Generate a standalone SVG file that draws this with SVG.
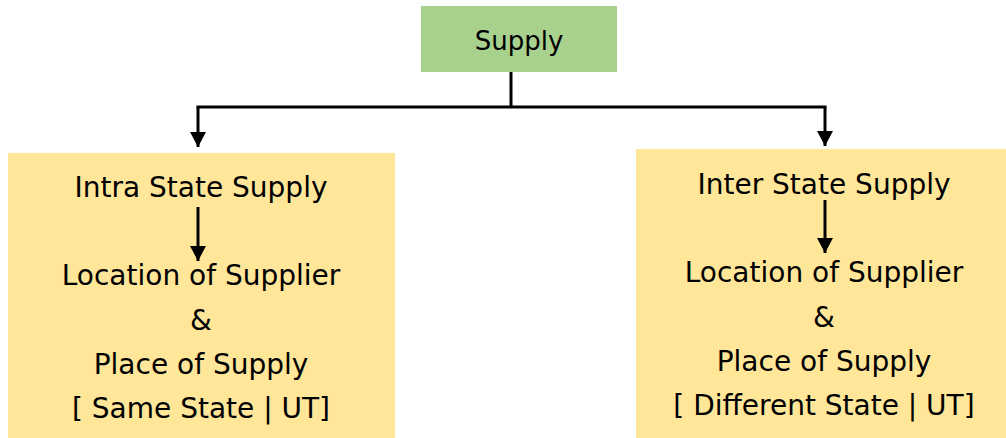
<svg xmlns="http://www.w3.org/2000/svg" width="1006" height="438" viewBox="0 0 1006 438">
<style>
.t{font-family:"DejaVu Sans","Liberation Sans",sans-serif;font-size:28px;fill:#000;text-anchor:middle}
.c{fill:none;stroke:#000;stroke-width:3}
</style>
<defs>
<marker id="ah" markerUnits="userSpaceOnUse" markerWidth="16" markerHeight="16" refX="15" refY="8" orient="auto">
<path d="M0,0 L15,8 L0,16 Z" fill="#000"/>
</marker>
</defs>
<rect width="1006" height="438" fill="#fff"/>
<g id="supply">
<rect x="421" y="6" width="196" height="66" fill="#A9D18E"/>
<text class="t" x="519" y="50" style="font-size:26px">Supply</text>
</g>
<g id="intra">
<rect x="8" y="153" width="387" height="285" fill="#FFE699"/>
<text class="t" x="201" y="197">Intra State Supply</text>
<text class="t" x="201" y="285">Location of Supplier</text>
<text class="t" x="201" y="330">&amp;</text>
<text class="t" x="201" y="374">Place of Supply</text>
<text class="t" x="201" y="418">[ Same State | UT]</text>
</g>
<g id="inter">
<rect x="636" y="149" width="370" height="289" fill="#FFE699"/>
<text class="t" x="824" y="194">Inter State Supply</text>
<text class="t" x="824" y="282">Location of Supplier</text>
<text class="t" x="824" y="327">&amp;</text>
<text class="t" x="824" y="371">Place of Supply</text>
<text class="t" x="824" y="415">[ Different State | UT]</text>
</g>
<g id="connectors">
<path class="c" d="M511 72 V107 M196.5 107 H826.5"/>
<path class="c" d="M198 107 V147" marker-end="url(#ah)"/>
<path class="c" d="M825 107 V146" marker-end="url(#ah)"/>
<path class="c" d="M198 207 V261" marker-end="url(#ah)"/>
<path class="c" d="M825 200 V253" marker-end="url(#ah)"/>
</g>
</svg>
